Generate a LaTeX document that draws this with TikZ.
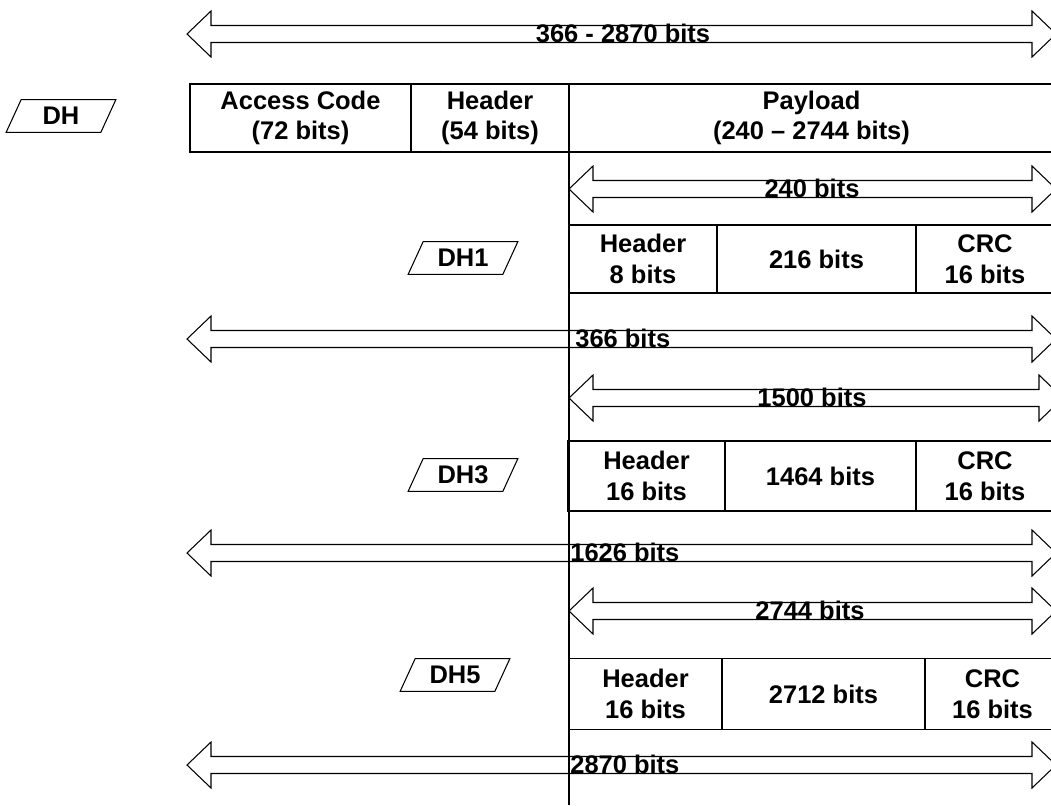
\documentclass[tikz,border=0pt]{standalone}
\usepackage{fontspec}
\setmainfont{Liberation Sans}
\usetikzlibrary{positioning}

\newcommand{\px}{0.02cm}
\tikzset{
  cell/.style={draw, line width=0.6pt, outer sep=0pt, inner sep=0pt, align=center,
    font=\bfseries\fontsize{14.5}{17.5}\selectfont},
  tag/.style={inner sep=0pt, minimum width=94*\px, minimum height=32*\px,
    font=\bfseries\fontsize{14.5}{17.5}\selectfont},
  bitlabel/.style={inner sep=0pt, font=\bfseries\fontsize{14.5}{17.5}\selectfont},
}
% hollow double arrow: left tip, right tip, centre y
\newcommand{\bitarrow}[3]{%
  \draw[line width=0.6pt] (#1,#3) -- ({#1+24},{#3-23}) -- ({#1+24},{#3-8.5})
    -- ({#2-24},{#3-8.5}) -- ({#2-24},{#3-23}) -- (#2,#3) -- ({#2-24},{#3+23})
    -- ({#2-24},{#3+8.5}) -- ({#1+24},{#3+8.5}) -- ({#1+24},{#3+23}) -- cycle;}

\begin{document}
\begin{tikzpicture}[x=0.02cm, y=-0.02cm]
  \useasboundingbox (0,0) rectangle (1051,805);
  \clip (0,0) rectangle (1051,805);

  % whole packet
  \bitarrow{187}{1056}{34}
  \node[bitlabel, anchor=base] (ltotal) at (623,42) {366 - 2870 bits};

  \node[tag] (dh) at (61,116) {DH};
  \node[cell, anchor=west, minimum width=221*\px, minimum height=68*\px] (acc) at (190,118) {Access Code\\(72 bits)};
  \node[cell, minimum width=158*\px, minimum height=68*\px, right=0pt of acc] (hdr) {Header\\(54 bits)};
  \node[cell, minimum width=485*\px, minimum height=68*\px, right=0pt of hdr] (pay) {Payload\\(240 – 2744 bits)};

  \coordinate (bot) at (569,805);
  \draw[line width=0.6pt] (hdr.north east) -- (hdr.north east |- bot);

  % DH1
  \bitarrow{569}{1056}{189}
  \node[bitlabel, anchor=base] (l240) at (812,197) {240 bits};
  \node[tag] (dh1) at (463,258) {DH1};
  \node[cell, anchor=west, minimum width=148*\px, minimum height=68*\px] (h1) at (569,259) {Header\\8 bits};
  \node[cell, minimum width=199*\px, minimum height=68*\px, right=0pt of h1] (p1) {216 bits};
  \node[cell, minimum width=138*\px, minimum height=68*\px, right=0pt of p1] (c1) {CRC\\16 bits};
  \bitarrow{187}{1056}{339}
  \node[bitlabel, anchor=base west] (l366) at (575,347) {366 bits};

  % DH3
  \bitarrow{569}{1063}{398}
  \node[bitlabel, anchor=base] (l1500) at (812,406) {1500 bits};
  \node[tag] (dh3) at (463,475) {DH3};
  \node[cell, anchor=west, minimum width=157*\px, minimum height=70*\px] (h3) at (568,476) {Header\\16 bits};
  \node[cell, minimum width=191*\px, minimum height=70*\px, right=0pt of h3] (p3) {1464 bits};
  \node[cell, minimum width=138*\px, minimum height=70*\px, right=0pt of p3] (c3) {CRC\\16 bits};
  \bitarrow{187}{1056}{553}
  \node[bitlabel, anchor=base west] (l1626) at (570,561) {1626 bits};

  % DH5
  \bitarrow{569}{1056}{611}
  \node[bitlabel, anchor=base] (l2744) at (810,619) {2744 bits};
  \node[tag] (dh5) at (455,675) {DH5};
  \node[cell, anchor=west, minimum width=153*\px, minimum height=71*\px] (h5) at (569,694) {Header\\16 bits};
  \node[cell, minimum width=203*\px, minimum height=71*\px, right=0pt of h5] (p5) {2712 bits};
  \node[cell, minimum width=135*\px, minimum height=71*\px, right=0pt of p5] (c5) {CRC\\16 bits};
  \bitarrow{187}{1056}{765}
  \node[bitlabel, anchor=base west] (l2870) at (570,773) {2870 bits};

  % slanted outlines of the packet tags
  \foreach \n in {dh,dh1,dh3,dh5}
    \draw[line width=0.6pt] ([xshift=7.5*\px]\n.north west) -- ([xshift=7.5*\px]\n.north east)
      -- ([xshift=-7.5*\px]\n.south east) -- ([xshift=-7.5*\px]\n.south west) -- cycle;
\end{tikzpicture}
\end{document}
